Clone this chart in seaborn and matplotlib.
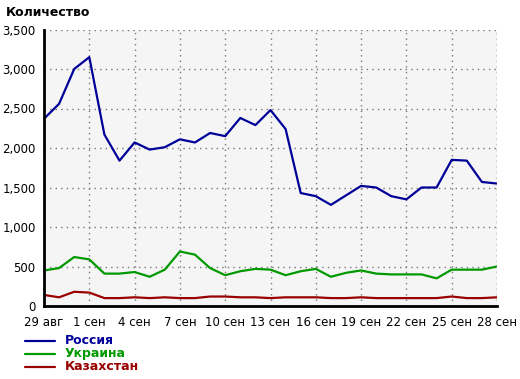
import matplotlib
matplotlib.use("Agg")
import matplotlib.pyplot as plt
import seaborn as sns
import pandas as pd
import numpy as np

days = ["29 авг", "30 авг", "31 авг"] + [f"{d} сен" for d in range(1, 29)]
russia = [2370, 2560, 3000, 3150, 2170, 1840, 2070, 1980, 2010, 2110, 2070,
          2190, 2150, 2380, 2290, 2480, 2240, 1430, 1390, 1280, 1400, 1520,
          1500, 1390, 1350, 1500, 1500, 1850, 1840, 1570, 1550]
ukraine = [450, 480, 620, 590, 410, 410, 430, 370, 460, 690, 650,
           480, 390, 440, 470, 460, 390, 440, 470, 370, 420, 450,
           410, 400, 400, 400, 350, 460, 460, 460, 500]
kazakhstan = [140, 110, 180, 170, 100, 100, 110, 100, 110, 100, 100,
              120, 120, 110, 110, 100, 110, 110, 110, 100, 100, 110,
              100, 100, 100, 100, 100, 120, 100, 100, 110]
series_names = ["Россия", "Украина", "Казахстан"]
colors = ["#000099", "#009900", "#990000"]
tick_labels = days[::3]

df = pd.DataFrame({
    "day": list(range(len(days))) * 3,
    "value": russia + ukraine + kazakhstan,
    "country": sum([[n] * len(days) for n in series_names], []),
})

sns.set_theme(style="white")
plt.rcParams["font.family"] = ["DejaVu Sans"]
plt.rcParams["text.color"] = "black"

fig = plt.figure(figsize=(5.2, 3.79), dpi=100)
ax = fig.add_axes([44 / 520, 1 - 306 / 379, (497 - 44) / 520, (306 - 29.5) / 379])
ax.set_facecolor("#f5f5f5")

sns.lineplot(data=df, x="day", y="value", hue="country", hue_order=series_names,
             palette=colors, linewidth=1.6, ax=ax, legend=False)

ax.set_xlim(0, len(days) - 1)
ax.set_ylim(0, 3500)
ax.set_xticks(range(0, len(days), 3))
ax.set_xticklabels(tick_labels)
ax.set_yticks(range(0, 3501, 500))
ax.set_yticklabels([f"{v:,}" for v in range(0, 3501, 500)])
ax.tick_params(axis="both", labelsize=8.5, colors="black", length=4, width=1,
               direction="out", pad=2)
ax.tick_params(axis="x", pad=3)
ax.set_xlabel("")
ax.set_ylabel("")

ax.grid(True, linestyle=(0, (1, 3)), color="#777777", linewidth=1)
for s in ["top", "right"]:
    ax.spines[s].set_visible(False)
for s in ["left", "bottom"]:
    ax.spines[s].set_color("black")
    ax.spines[s].set_linewidth(2)
ax.axvline(len(days) - 1, linestyle=(0, (1, 3)), color="#777777", linewidth=1)

fig.text(6 / 520, 1 - 12 / 379, "Количество", fontsize=9, fontweight="bold",
         color="black", va="center", ha="left")

for i, (name, c) in enumerate(zip(series_names, colors)):
    y = 1 - (341 + 13 * i) / 379
    fig.add_artist(plt.Line2D([25 / 520, 55 / 520], [y, y], color=c, linewidth=1.6,
                              transform=fig.transFigure))
    fig.text(65 / 520, y, name, color=c, fontsize=9, fontweight="bold",
             va="center", ha="left")

fig.savefig("out.png", dpi=100)
